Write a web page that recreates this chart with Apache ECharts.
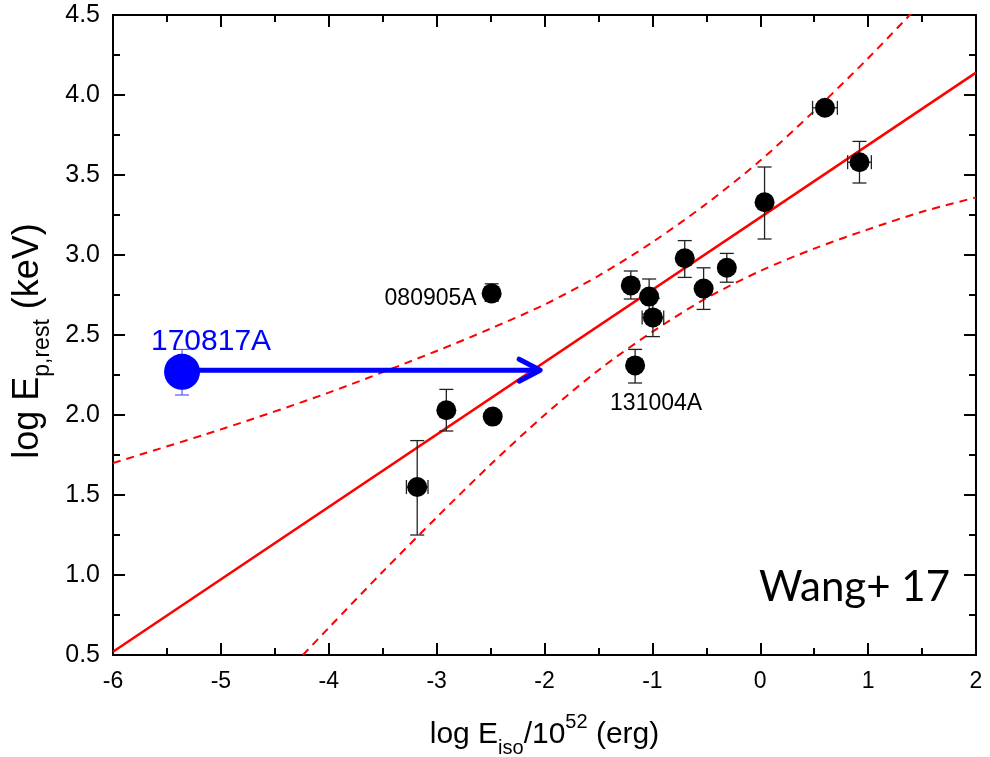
<!DOCTYPE html>
<html>
<head>
<meta charset="utf-8">
<script src="https://cdn.jsdelivr.net/npm/echarts@6/dist/echarts.min.js"></script>
<style>
html,body{margin:0;padding:0;background:#fff;}
#chart{width:990px;height:757px;}
</style>
</head>
<body>
<div id="chart"></div>
<script>
// ---- data ----
const grbX     = [-3.18, -2.91, -2.48, -2.49, -1.20, -1.03, -0.995, -1.16, -0.70, -0.525, -0.31, 0.04, 0.60, 0.92];
const grbY     = [1.55, 2.03, 1.99, 2.76, 2.81, 2.74, 2.61, 2.31, 2.98, 2.79, 2.92, 3.33, 3.92, 3.58];
const yErrLow  = [1.25, 1.90, 1.96, 2.71, 2.725, 2.63, 2.49, 2.20, 2.86, 2.66, 2.83, 3.10, 3.90, 3.45];
const yErrHigh = [1.84, 2.16, 2.02, 2.82, 2.90, 2.85, 2.73, 2.41, 3.09, 2.92, 3.01, 3.55, 3.94, 3.71];
const xErr     = [0.10, 0, 0, 0, 0, 0, 0.10, 0, 0, 0, 0, 0, 0.115, 0.11];
const grbNames = ['', '', '', '080905A', '', '', '', '131004A', '', '', '', '', '', ''];

const gwX = [-5.36];
const gwY = [2.27];
const gwErrLow = [2.125];
const gwErrHigh = [2.41];
const gwName = ['170817A'];
const arrowEndX = [-2.04];
const arrowY = [2.28];

const fitX = [-6, 2];
const fitY = [0.52, 4.14];

const upperX = [-6, -5, -4, -3, -2.5, -2, -1.5, -1, -0.5, 0, 0.5, 1, 1.40];
const upperY = [1.70, 1.91, 2.14, 2.40, 2.54, 2.69, 2.87, 3.08, 3.32, 3.59, 3.90, 4.23, 4.51];
const lowerX = [-4.24, -4, -3.5, -3, -2.5, -2, -1.5, -1, -0.5, 0, 0.5, 1, 1.5, 2];
const lowerY = [0.50, 0.67, 1.02, 1.36, 1.69, 2.00, 2.28, 2.52, 2.73, 2.90, 3.04, 3.16, 3.27, 3.36];

const xTicks = {min: -6, max: 2, interval: 1};
const yTicks = {min: 0.5, max: 4.5, interval: 0.5};

// ---- chart ----
const FONT = "'Liberation Sans', Arial, sans-serif";
const chart = echarts.init(document.getElementById('chart'), null, {renderer: 'canvas'});

const zip = (a, b) => a.map((v, i) => [v, b[i]]);

function axisCommon(showLabel, fs) {
  return {
    axisLine: {show: true, onZero: false, lineStyle: {color: '#000', width: 2}},
    axisTick: {show: true, inside: true, length: 12, lineStyle: {color: '#000', width: 2}},
    minorTick: {show: true, splitNumber: 2, length: 7, lineStyle: {color: '#000', width: 2}},
    splitLine: {show: false},
    axisLabel: {show: showLabel, color: '#000', fontSize: fs || 24, fontFamily: FONT, margin: 15}
  };
}

const errData = grbX.map((x, i) => [x, grbY[i], yErrLow[i], yErrHigh[i], xErr[i]]);
const gwErrData = gwX.map((x, i) => [x, gwY[i], gwErrLow[i], gwErrHigh[i], 0]);

function errorBarRender(color, width, cap) {
  return function (params, api) {
    const x = api.value(0), y = api.value(1), lo = api.value(2), hi = api.value(3), xe = api.value(4);
    const children = [];
    const style = {stroke: color, lineWidth: width};
    if (hi > lo) {
      const pLo = api.coord([x, lo]), pHi = api.coord([x, hi]);
      children.push({type: 'line', shape: {x1: pLo[0], y1: pLo[1], x2: pHi[0], y2: pHi[1]}, style});
      children.push({type: 'line', shape: {x1: pLo[0] - cap, y1: pLo[1], x2: pLo[0] + cap, y2: pLo[1]}, style});
      children.push({type: 'line', shape: {x1: pHi[0] - cap, y1: pHi[1], x2: pHi[0] + cap, y2: pHi[1]}, style});
    }
    if (xe > 0) {
      const pL = api.coord([x - xe, y]), pR = api.coord([x + xe, y]);
      children.push({type: 'line', shape: {x1: pL[0], y1: pL[1], x2: pR[0], y2: pR[1]}, style});
      children.push({type: 'line', shape: {x1: pL[0], y1: pL[1] - cap, x2: pL[0], y2: pL[1] + cap}, style});
      children.push({type: 'line', shape: {x1: pR[0], y1: pR[1] - cap, x2: pR[0], y2: pR[1] + cap}, style});
    }
    return {type: 'group', children};
  };
}

const option = {
  animation: false,
  backgroundColor: '#fff',
  grid: {left: 113, right: 14, top: 15, bottom: 102, containLabel: false, outerBoundsMode: 'none'},
  xAxis: [
    Object.assign({
      type: 'value', position: 'bottom', min: xTicks.min, max: xTicks.max, interval: xTicks.interval,
      name: '{a|log E}{sub|iso}{a|/10}{sup|52}{a| (erg)}',
      nameLocation: 'middle', nameGap: 57,
      nameTextStyle: {
        color: '#000', fontFamily: FONT,
        rich: {
          a: {fontSize: 30, lineHeight: 46, fontFamily: FONT, color: '#000'},
          sub: {fontSize: 20, lineHeight: 20, verticalAlign: 'bottom', fontFamily: FONT, color: '#000'},
          sup: {fontSize: 20, lineHeight: 20, verticalAlign: 'top', fontFamily: FONT, color: '#000'}
        }
      }
    }, axisCommon(true, 23)),
    Object.assign({type: 'value', position: 'top', min: xTicks.min, max: xTicks.max, interval: xTicks.interval}, axisCommon(false))
  ],
  yAxis: [
    Object.assign({
      type: 'value', position: 'left', min: yTicks.min, max: yTicks.max, interval: yTicks.interval,
      name: '{a|log E}{sub|p,rest}{a| (keV)}',
      nameLocation: 'middle', nameGap: 53, nameRotate: 90,
      nameTextStyle: {
        color: '#000', fontFamily: FONT, padding: [0, 12, 0, 0],
        rich: {
          a: {fontSize: 36, lineHeight: 52, fontFamily: FONT, color: '#000'},
          sub: {fontSize: 23, lineHeight: 23, verticalAlign: 'bottom', fontFamily: FONT, color: '#000'}
        }
      }
    }, axisCommon(true, 25), {axisLabel: {show: true, color: '#000', fontSize: 25, fontFamily: FONT, margin: 13,
      formatter: v => v.toFixed(1)}}),
    Object.assign({type: 'value', position: 'right', min: yTicks.min, max: yTicks.max, interval: yTicks.interval}, axisCommon(false))
  ],
  graphic: [
    {type: 'text', right: 40, top: 566, z: 100,
     style: {text: 'Wang+ 17', fill: '#000', font: "42px Lato, 'Open Sans', sans-serif"}}
  ],
  series: [
    {
      type: 'line', data: zip(upperX, upperY), smooth: 0.3, symbol: 'none', clip: true, z: 2,
      lineStyle: {color: '#ff0000', width: 2, type: [8, 6]}
    },
    {
      type: 'line', data: zip(lowerX, lowerY), smooth: 0.3, symbol: 'none', clip: true, z: 2,
      lineStyle: {color: '#ff0000', width: 2, type: [8, 6]}
    },
    {
      type: 'line', data: zip(fitX, fitY), symbol: 'none', clip: true, z: 3,
      lineStyle: {color: '#ff0000', width: 2.5}
    },
    {
      type: 'custom', data: errData, z: 4, clip: false,
      encode: {x: 0, y: [1, 2, 3]},
      renderItem: errorBarRender('#222', 1.3, 7)
    },
    {
      type: 'scatter', data: grbX.map((x, i) => ({
        value: [x, grbY[i]],
        label: grbNames[i] === '080905A'
          ? {show: true, formatter: grbNames[i], position: 'left', distance: 5, offset: [0, 5]}
          : grbNames[i] === '131004A'
          ? {show: true, formatter: grbNames[i], position: 'bottom', distance: 17, offset: [21, 0]}
          : {show: false}
      })),
      symbol: 'circle', symbolSize: 20, z: 5,
      itemStyle: {color: '#000', opacity: 1},
      emphasis: {disabled: true},
      label: {color: '#000', fontSize: 23, fontFamily: FONT, opacity: 1}
    },
    {
      type: 'custom', z: 6, clip: false,
      data: gwX.map((x, i) => [x, arrowY[i], arrowEndX[i]]),
      encode: {x: [0, 2], y: 1},
      renderItem: function (params, api) {
        const p0 = api.coord([api.value(0), api.value(1)]);
        const p1 = api.coord([api.value(2), api.value(1)]);
        const style = {stroke: '#0000ff', lineWidth: 5, lineCap: 'round', lineJoin: 'round', fill: null};
        return {type: 'group', children: [
          {type: 'line', shape: {x1: p0[0], y1: p0[1], x2: p1[0] - 2, y2: p1[1]}, style},
          {type: 'polyline', shape: {points: [[p1[0] - 21, p1[1] - 11], [p1[0], p1[1]], [p1[0] - 21, p1[1] + 11]]}, style}
        ]};
      }
    },
    {
      type: 'custom', data: gwErrData, z: 6, clip: false,
      encode: {x: 0, y: [1, 2, 3]},
      renderItem: errorBarRender('#5555ff', 1.2, 7)
    },
    {
      type: 'scatter', data: gwX.map((x, i) => ({value: [x, gwY[i]], name: gwName[i]})),
      symbol: 'circle', symbolSize: 36, z: 7,
      itemStyle: {color: '#0000ff', opacity: 1},
      emphasis: {disabled: true},
      label: {show: true, formatter: '{b}', position: 'top', distance: 0, offset: [29, 3],
        color: '#0000ff', fontSize: 30, fontFamily: FONT, opacity: 1}
    }
  ]
};
chart.setOption(option);
</script>
</body>
</html>
